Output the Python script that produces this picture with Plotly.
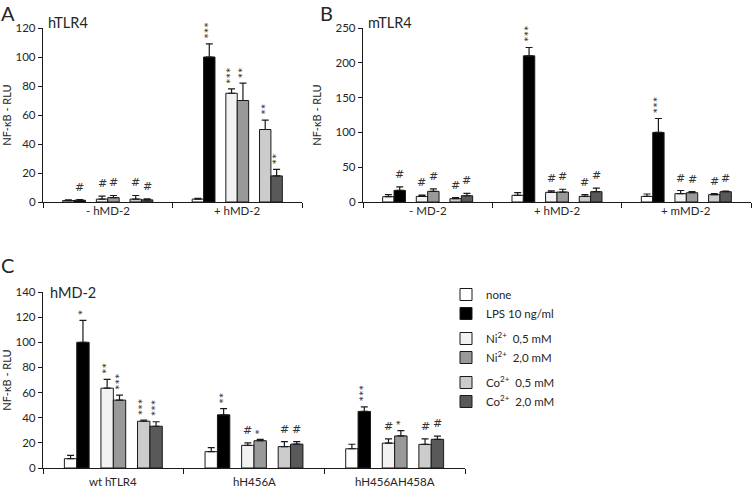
import plotly.graph_objects as go

W, H = 752, 487

# ---------------- data ----------------
series_names = ["none", "LPS 10 ng/ml",
                "Ni<sup>2+</sup>\u00a0\u00a00,5 mM", "Ni<sup>2+</sup>\u00a0\u00a02,0 mM",
                "Co<sup>2+</sup>\u00a0\u00a00,5 mM", "Co<sup>2+</sup>\u00a0\u00a02,0 mM"]
series_colors = ["#ffffff", "#000000", "#f2f2f2", "#999999", "#cccccc", "#595959"]
pair_groups = ["ctrl", "ctrl", "ni", "ni", "co", "co"]

# Panel A : hTLR4
A_groups = ["- hMD-2", "+ hMD-2"]
A_mean = [[1.0, 2.0], [1.2, 100.0], [2.0, 75.0], [3.0, 70.0], [2.0, 50.0], [1.5, 18.0]]
A_err = [[0.5, 0.6], [0.5, 9.0], [2.0, 3.0], [1.5, 12.0], [2.5, 6.5], [0.6, 4.5]]
A_marks = [["", ""], ["#", "***"], ["#", "***"], ["#", "**"], ["#", "**"], ["#", "**"]]

# Panel B : mTLR4
B_groups = ["- MD-2", "+ hMD-2", "+ mMD-2"]
B_mean = [[7.6, 9.6, 8.0], [16.7, 210.0, 100.0], [8.0, 13.9, 12.0],
          [15.3, 14.3, 13.3], [4.8, 8.1, 10.5], [9.0, 14.8, 14.8]]
B_err = [[3.0, 4.0, 3.5], [5.0, 12.0, 20.0], [2.0, 2.0, 4.5],
         [3.5, 4.0, 1.5], [1.5, 2.5, 1.5], [3.5, 5.0, 1.0]]
B_marks = [["", "", ""], ["#", "***", "***"], ["#", "#", "#"],
           ["#", "#", "#"], ["#", "#", "#"], ["#", "#", "#"]]

# Panel C : hMD-2
C_groups = ["wt hTLR4", "hH456A", "hH456AH458A"]
C_mean = [[7.4, 13.0, 15.3], [100.0, 42.3, 45.0], [63.5, 18.0, 19.8],
          [54.0, 21.7, 25.5], [37.2, 17.0, 18.8], [33.2, 19.0, 22.8]]
C_err = [[2.6, 3.2, 3.6], [17.5, 5.0, 3.7], [7.0, 2.0, 3.3],
         [4.0, 1.0, 4.2], [1.0, 4.0, 4.3], [3.6, 2.0, 2.6]]
C_marks = [["", "", ""], ["*", "**", "***"], ["**", "#", "#"],
           ["***", "*", "*"], ["***", "#", "#"], ["***", "#", "#"]]

# ---------------- layout helpers ----------------
FONT = "Lato, 'Open Sans', sans-serif"
TXT = "#262626"
PAIR_OFF = [-0.26, 0.0, 0.26]
BAR_OFF = [-0.044, 0.044]
BAR_W = 0.088


def xpos(g, s):
    return g + PAIR_OFF[s // 2] + BAR_OFF[s % 2]


def px_x(p):
    return p / W


def px_y(p):
    return 1 - p / H


panels = [
    dict(key="", groups=A_groups, mean=A_mean, err=A_err, marks=A_marks, lab=-9,
         xd=[px_x(43), px_x(302)], yd=[px_y(202), px_y(28)], yr=[0, 120], dt=20, legend=False),
    dict(key="2", groups=B_groups, mean=B_mean, err=B_err, marks=B_marks, lab=-9,
         xd=[px_x(363), px_x(751)], yd=[px_y(202), px_y(28)], yr=[0, 250], dt=50, legend=False),
    dict(key="3", groups=C_groups, mean=C_mean, err=C_err, marks=C_marks, lab=-13,
         xd=[px_x(43), px_x(465)], yd=[px_y(468), px_y(292)], yr=[0, 140], dt=20, legend=True),
]

fig = go.Figure()
annotations = []

for p in panels:
    k = p["key"]
    ng = len(p["groups"])
    for s in range(6):
        xs = [xpos(g, s) for g in range(ng)]
        fig.add_trace(go.Bar(
            x=xs, y=p["mean"][s], width=BAR_W,
            name=series_names[s], legendgroup=pair_groups[s],
            showlegend=p["legend"],
            marker=dict(color=series_colors[s], line=dict(color="#1a1a1a", width=1)),
            error_y=dict(type="data", symmetric=False, array=p["err"][s],
                         arrayminus=[0] * ng, color="#1a1a1a", thickness=1.2, width=3.5),
            xaxis="x" + k, yaxis="y" + k,
        ))
        for g in range(ng):
            m = p["marks"][s][g]
            if not m:
                continue
            top = p["mean"][s][g] + p["err"][s][g]
            if m == "#":
                annotations.append(dict(x=xpos(g, s), y=top, xref="x" + k, yref="y" + k,
                                        text=m, showarrow=False, yanchor="bottom",
                                        yshift=4, font=dict(size=11, color="#333333",
                                                            family="DejaVu Sans")))
            else:
                annotations.append(dict(x=xpos(g, s), y=top, xref="x" + k, yref="y" + k,
                                        text=m, showarrow=False, yanchor="bottom",
                                        textangle=-90, yshift=3,
                                        font=dict(size=13, color="#333333", family=FONT)))
    for g in range(ng):
        annotations.append(dict(x=g, y=0, xref="x" + k, yref="y" + k, text=p["groups"][g],
                                showarrow=False, yanchor="middle", yshift=p["lab"],
                                font=dict(size=11.5, color=TXT, family=FONT)))
    axis_common = dict(showline=True, linecolor="#1a1a1a", linewidth=1.3, showgrid=False,
                       zeroline=False, ticks="outside", tickcolor="#1a1a1a", tickwidth=1.2,
                       automargin=False)
    fig.update_layout(**{
        "xaxis" + k: dict(domain=p["xd"], range=[-0.5, ng - 0.5], tickmode="array",
                          tickvals=[i - 0.5 for i in range(ng + 1)],
                          ticktext=[""] * (ng + 1), ticklen=5,
                          anchor="y" + k, fixedrange=True, **axis_common),
        "yaxis" + k: dict(domain=p["yd"], range=p["yr"], dtick=p["dt"], tick0=0,
                          ticklen=4, anchor="x" + k, fixedrange=True,
                          tickfont=dict(size=11.5, color=TXT, family=FONT),
                          title=dict(text="NF-\u03baB - RLU", standoff=11,
                                     font=dict(size=11, color=TXT, family=FONT)),
                          **axis_common),
    })

# panel letters and titles
for txt, x, y in [("A", 0, 13), ("B", 319, 13), ("C", 0, 265)]:
    annotations.append(dict(x=px_x(x), y=px_y(y), xref="paper", yref="paper", text=txt,
                            showarrow=False, xanchor="left", yanchor="middle", borderpad=0,
                            font=dict(size=20, color=TXT, family=FONT)))
for txt, x, y in [("hTLR4", 46, 22), ("mTLR4", 366, 22), ("hMD-2", 48, 292)]:
    annotations.append(dict(x=px_x(x), y=px_y(y), xref="paper", yref="paper", text=txt,
                            showarrow=False, xanchor="left", yanchor="middle",
                            font=dict(size=14.5, color=TXT, family=FONT)))

fig.update_layout(
    width=W, height=H,
    margin=dict(l=0, r=0, t=0, b=0),
    paper_bgcolor="white", plot_bgcolor="white",
    barmode="overlay",
    annotations=annotations,
    showlegend=True,
    legend=dict(x=px_x(446), y=px_y(280), xanchor="left", yanchor="top",
                tracegroupgap=6, font=dict(size=11.5, color=TXT, family=FONT),
                bgcolor="rgba(0,0,0,0)"),
    font=dict(family=FONT, color=TXT),
)

fig.write_html("out.html", config={"displayModeBar": False},
               post_script="document.body.style.margin='0';")
